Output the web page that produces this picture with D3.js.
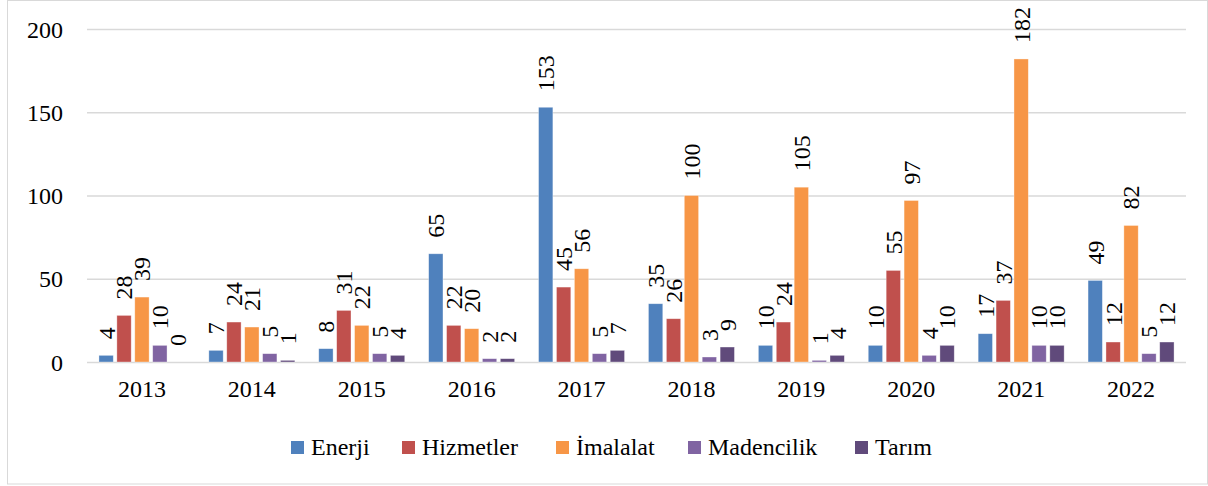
<!DOCTYPE html>
<html>
<head>
<meta charset="utf-8">
<script src="https://cdn.jsdelivr.net/npm/d3@7"></script>
<style>
  body { margin: 0; background: #fff; }
</style>
</head>
<body>
<div id="chart"></div>
<script>
// data
var years = ["2013", "2014", "2015", "2016", "2017", "2018", "2019", "2020", "2021", "2022"];
var seriesNames = ["Enerji", "Hizmetler", "İmalalat", "Madencilik", "Tarım"];
var enerji     = [4, 7, 8, 65, 153, 35, 10, 10, 17, 49];
var hizmetler  = [28, 24, 31, 22, 45, 26, 24, 55, 37, 12];
var imalalat   = [39, 21, 22, 20, 56, 100, 105, 97, 182, 82];
var madencilik = [10, 5, 5, 2, 5, 3, 1, 4, 10, 5];
var tarim      = [0, 1, 4, 2, 7, 9, 4, 10, 10, 12];
var yTicks = [0, 50, 100, 150, 200];

var values = [enerji, hizmetler, imalalat, madencilik, tarim];
var colors = ["#4F81BD", "#C0504D", "#F79646", "#8064A2", "#604A7B"];
var FONT = "'Liberation Serif', 'Times New Roman', Tinos, 'DejaVu Serif', serif";

var W = 1208, H = 486;
var margin = { top: 29, right: 22, bottom: 124, left: 87 },
    width = W - margin.left - margin.right,
    height = H - margin.top - margin.bottom;

var svg = d3.select("#chart").append("svg")
    .attr("width", W)
    .attr("height", H)
    .style("font-family", FONT);

// outer frame
svg.append("rect")
    .attr("x", 7.5).attr("y", 0.5)
    .attr("width", W - 8).attr("height", H - 2.5)
    .attr("fill", "none")
    .attr("stroke", "#d9d9d9");

var g = svg.append("g")
    .attr("transform", "translate(" + margin.left + "," + margin.top + ")");

var x0 = d3.scaleBand().domain(years).range([0, width]).padding(0);
var x1 = d3.scaleBand().domain(seriesNames)
    .range([x0.bandwidth() / 2 - 43, x0.bandwidth() / 2 + 43])
    .paddingInner(0.2).paddingOuter(0);
var y = d3.scaleLinear().domain([0, 200]).range([height, 0]);

// gridlines
g.append("g")
    .selectAll("line")
    .data(yTicks)
    .enter().append("line")
    .attr("x1", 0).attr("x2", width)
    .attr("y1", function (d) { return y(d) + 0.5; })
    .attr("y2", function (d) { return y(d) + 0.5; })
    .attr("stroke", "#d9d9d9")
    .attr("stroke-width", 1.5);

// y axis
var yAxis = g.append("g")
    .call(d3.axisLeft(y).tickValues(yTicks).tickSize(0).tickPadding(24));
yAxis.attr("font-family", null).attr("font-size", null);
yAxis.select(".domain").remove();
yAxis.selectAll("text").style("font-size", "24px").style("font-family", FONT).attr("dy", "0.34em").attr("fill", "#000");

// x axis
var xAxis = g.append("g")
    .attr("transform", "translate(0," + height + ")")
    .call(d3.axisBottom(x0).tickSize(0).tickPadding(18));
xAxis.attr("font-family", null).attr("font-size", null);
xAxis.select(".domain").remove();
xAxis.selectAll("text").style("font-size", "24px").style("font-family", FONT).attr("fill", "#000");

// bars
var groups = g.selectAll("g.year")
    .data(years)
    .enter().append("g")
    .attr("class", "year")
    .attr("transform", function (d) { return "translate(" + x0(d) + ",0)"; });

groups.each(function (yr, i) {
    var grp = d3.select(this);
    seriesNames.forEach(function (s, j) {
        var v = values[j][i];
        grp.append("rect")
            .attr("x", x1(s))
            .attr("y", y(v))
            .attr("width", x1.bandwidth())
            .attr("height", height - y(v))
            .attr("fill", colors[j])
            .attr("stroke", "#fff")
            .attr("stroke-opacity", 0.5)
            .attr("stroke-width", 0.7);
        var cx = x1(s) + x1.bandwidth() / 2;
        var ty = y(v) - 16;
        grp.append("text")
            .attr("transform", "translate(" + cx + "," + ty + ") rotate(-90)")
            .attr("dy", "0.35em")
            .style("font-size", "24px")
            .style("font-family", FONT)
            .text(v);
    });
});

// legend
var legendX = [291, 402, 556, 688, 855];
var legend = svg.append("g");
seriesNames.forEach(function (s, j) {
    var lg = legend.append("g").attr("transform", "translate(" + legendX[j] + ",441)");
    lg.append("rect").attr("width", 13).attr("height", 13).attr("fill", colors[j]);
    lg.append("text").attr("x", 20).attr("y", 14)
        .style("font-size", "24px").style("font-family", FONT).text(s);
});
</script>
</body>
</html>
